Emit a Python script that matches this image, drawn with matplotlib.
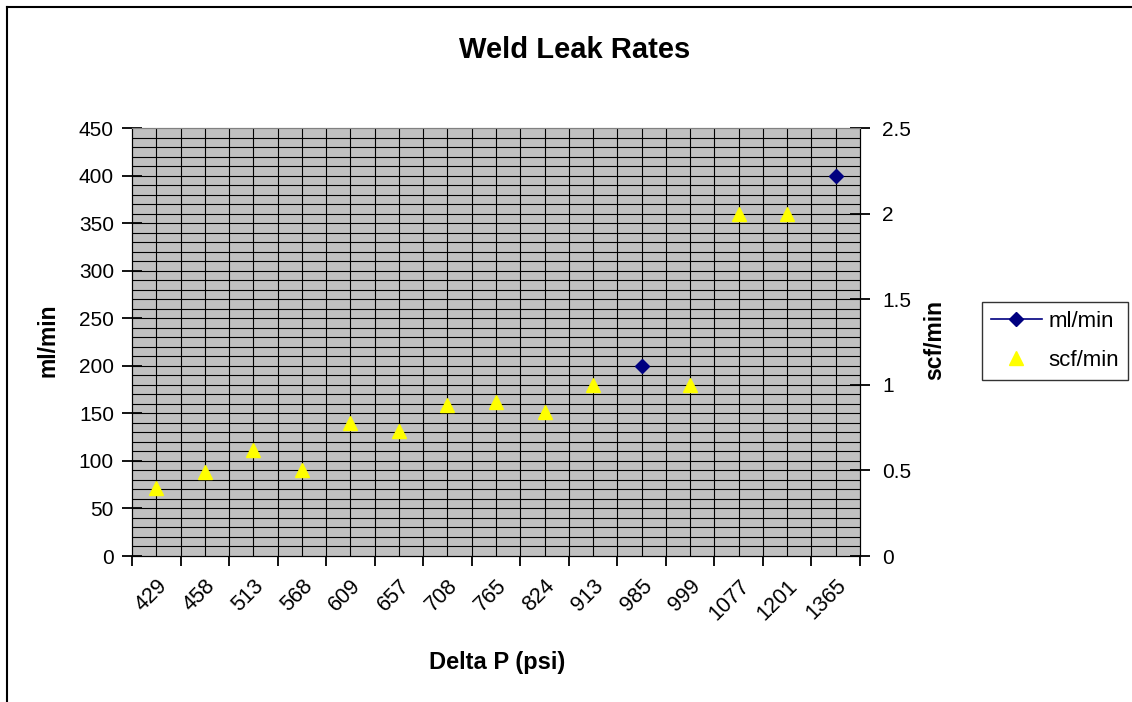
import matplotlib
matplotlib.use("Agg")
import matplotlib.pyplot as plt
import numpy as np

# data
delta_p = ["429", "458", "513", "568", "609", "657", "708", "765", "824",
           "913", "985", "999", "1077", "1201", "1365"]
ml_min = [np.nan, np.nan, np.nan, np.nan, np.nan, np.nan, np.nan, np.nan,
          np.nan, np.nan, 200, np.nan, np.nan, np.nan, 400]
scf_min = [0.40, 0.49, 0.62, 0.50, 0.78, 0.73, 0.88, 0.90, 0.84,
           1.00, np.nan, 1.00, 2.00, 2.00, np.nan]

plt.rcParams['font.family'] = ['Liberation Sans', 'DejaVu Sans']

fig = plt.figure(figsize=(11.32, 7.02), dpi=100)
ax = fig.add_axes([132/1132, 1-556/702, 728/1132, 427.7/702])
ax2 = ax.twinx()

x = np.arange(len(delta_p))

ax.set_facecolor('#C0C0C0')
ax.set_xlim(-0.5, len(delta_p) - 0.5)
ax.set_ylim(0, 450)
ax2.set_ylim(0, 2.5)

# grid: every 10 ml/min and every half category
for yv in np.arange(10, 450, 10):
    ax.axhline(yv, color='black', lw=0.8, zorder=0.5)
for xv in np.arange(0, len(delta_p) - 0.5, 0.5):
    ax.axvline(xv, color='black', lw=0.8, zorder=0.5)

l1, = ax.plot(x, ml_min, color='#000080', marker='D', ms=7.5, lw=1.2,
              label='ml/min', zorder=3)
l2, = ax2.plot(x, scf_min, linestyle='none', color='#FFFF00', marker='^',
               ms=9.5, label='scf/min', zorder=3)

ax.set_yticks(np.arange(0, 451, 50))
ax2.set_yticks([0, 0.5, 1, 1.5, 2, 2.5])
ax2.set_yticklabels(['0', '0.5', '1', '1.5', '2', '2.5'])

ax.set_xticks(np.arange(-0.5, len(delta_p), 1))
ax.set_xticklabels([])
ax.set_xticks(x, minor=True)
ax.set_xticklabels(delta_p, minor=True, rotation=45, ha='right',
                   rotation_mode='anchor', fontsize=15.5)
ax.tick_params(axis='x', which='major', direction='out', length=7, width=1.3,
               color='black')
ax.tick_params(axis='x', which='minor', length=0, pad=14)
ax.tick_params(axis='y', direction='inout', length=14, width=1.3,
               color='black', labelsize=15, pad=6)
ax2.tick_params(axis='y', direction='inout', length=14, width=1.3,
                color='black', labelsize=15, pad=9)

for a in (ax, ax2):
    a.spines['top'].set_color('#808080')
    a.spines['left'].set_color('black')
    a.spines['right'].set_color('black')
    a.spines['bottom'].set_color('black')

fig.text(575/1132, 1-50/702, 'Weld Leak Rates', fontsize=21,
         fontweight='bold', ha='center', va='center')
fig.text(48/1132, 1-340/702, 'ml/min', fontsize=16.5, fontweight='bold',
         rotation=90, ha='center', va='center')
fig.text(935/1132, 1-340/702, 'scf/min', fontsize=16.5, fontweight='bold',
         rotation=90, ha='center', va='center')
fig.text(497/1132, 1-662/702, 'Delta P (psi)', fontsize=17,
         fontweight='bold', ha='center', va='center')

leg = fig.legend(handles=[l1, l2], loc='upper left',
                 bbox_to_anchor=(982/1132, 1-302/702), fontsize=16,
                 frameon=True, fancybox=False, borderpad=0.4,
                 borderaxespad=0, handlelength=2.3, handletextpad=0.3,
                 labelspacing=0.8)
leg.get_frame().set_edgecolor('black')
leg.get_frame().set_linewidth(1)

# outer chart border (only top and left visible in the crop)
fig.add_artist(plt.Line2D([7/1132, 1], [1-7/702, 1-7/702], color='black',
                          lw=1.5, transform=fig.transFigure))
fig.add_artist(plt.Line2D([7/1132, 7/1132], [0, 1-7/702], color='black',
                          lw=1.5, transform=fig.transFigure))

fig.savefig('out.png', dpi=100)
